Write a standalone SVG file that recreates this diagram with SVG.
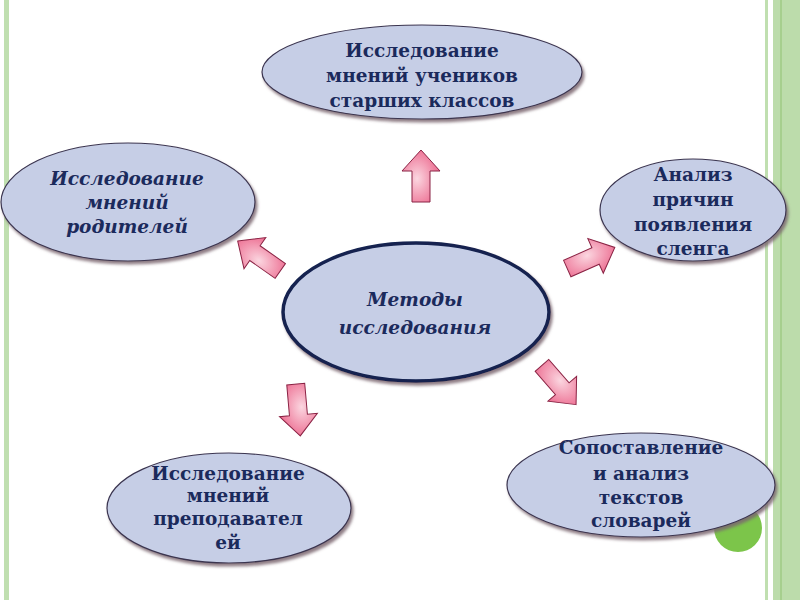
<svg xmlns="http://www.w3.org/2000/svg" width="800" height="600" viewBox="0 0 800 600">
<defs>
<radialGradient id="pink" cx="0.4" cy="0.55" r="0.7">
<stop offset="0" stop-color="#fbd6e0"/>
<stop offset="1" stop-color="#ea5c84"/>
</radialGradient>
<filter id="sh" x="-10%" y="-10%" width="125%" height="130%">
<feDropShadow dx="2" dy="3" stdDeviation="1.5" flood-color="#7a6670" flood-opacity="0.85"/>
</filter>
<path id="arr" d="M0,-26 L19,-5 L9,-5 L9,26 L-9,26 L-9,-5 L-19,-5 Z"/>
<style>
.el{fill:#c6cee6;stroke:#3b3550;stroke-width:1.2;filter:url(#sh)}
.main{fill:#c6cee6;stroke:#12214f;stroke-width:3.5;filter:url(#sh)}
.t{font-family:"DejaVu Serif","Liberation Serif",serif;font-weight:bold;fill:#1b2a5c;text-anchor:middle;font-size:18.5px}
.i{font-style:italic}
.a{fill:url(#pink);stroke:#8a2344;stroke-width:1}
</style>
</defs>
<rect width="800" height="600" fill="#ffffff"/>
<g id="borders">
<rect x="4" y="0" width="5" height="600" fill="#c0dfb0"/>
<rect x="765" y="0" width="3" height="600" fill="#c0dfb0"/>
<rect x="773" y="0" width="27" height="600" fill="#bcdcab"/>
<rect x="780" y="0" width="2" height="600" fill="#a6cf8e"/>
</g>
<circle id="green-dot" cx="738" cy="528" r="24" fill="#7cc54a"/>
<g id="connectors">
<use href="#arr" class="a" transform="translate(421,176)"/>
<use href="#arr" class="a" transform="translate(259,256) rotate(-55)"/>
<use href="#arr" class="a" transform="translate(591,258) rotate(66)"/>
<use href="#arr" class="a" transform="translate(559,385) rotate(139)"/>
<use href="#arr" class="a" transform="translate(298,410) rotate(175)"/>
</g>
<g id="n-top">
<ellipse class="el" cx="422" cy="72" rx="160" ry="47"/>
<text class="t" x="422" y="57">Исследование</text>
<text class="t" x="422" y="82">мнений учеников</text>
<text class="t" x="422" y="107">старших классов</text>
</g>
<g id="n-left">
<ellipse class="el" cx="128" cy="202" rx="127" ry="59"/>
<text class="t i" x="127" y="185">Исследование</text>
<text class="t i" x="127" y="209">мнений</text>
<text class="t i" x="127" y="233">родителей</text>
</g>
<g id="n-right">
<ellipse class="el" cx="693" cy="210" rx="93" ry="51"/>
<text class="t" x="693" y="181">Анализ</text>
<text class="t" x="693" y="206">причин</text>
<text class="t" x="693" y="231">появления</text>
<text class="t" x="693" y="255">сленга</text>
</g>
<g id="n-center">
<ellipse class="main" cx="416" cy="312" rx="133" ry="69"/>
<text class="t i" x="415" y="306" font-size="22.5">Методы</text>
<text class="t i" x="415" y="334" font-size="22.5">исследования</text>
</g>
<g id="n-bottom-right">
<ellipse class="el" cx="641" cy="485" rx="134" ry="52"/>
<text class="t" x="641" y="454">Сопоставление</text>
<text class="t" x="641" y="480">и анализ</text>
<text class="t" x="641" y="504">текстов</text>
<text class="t" x="641" y="527">словарей</text>
</g>
<g id="n-bottom-left">
<ellipse class="el" cx="229" cy="508" rx="122" ry="55"/>
<text class="t" x="228" y="480">Исследование</text>
<text class="t" x="228" y="502">мнений</text>
<text class="t" x="228" y="525">преподавател</text>
<text class="t" x="228" y="549">ей</text>
</g>
</svg>
